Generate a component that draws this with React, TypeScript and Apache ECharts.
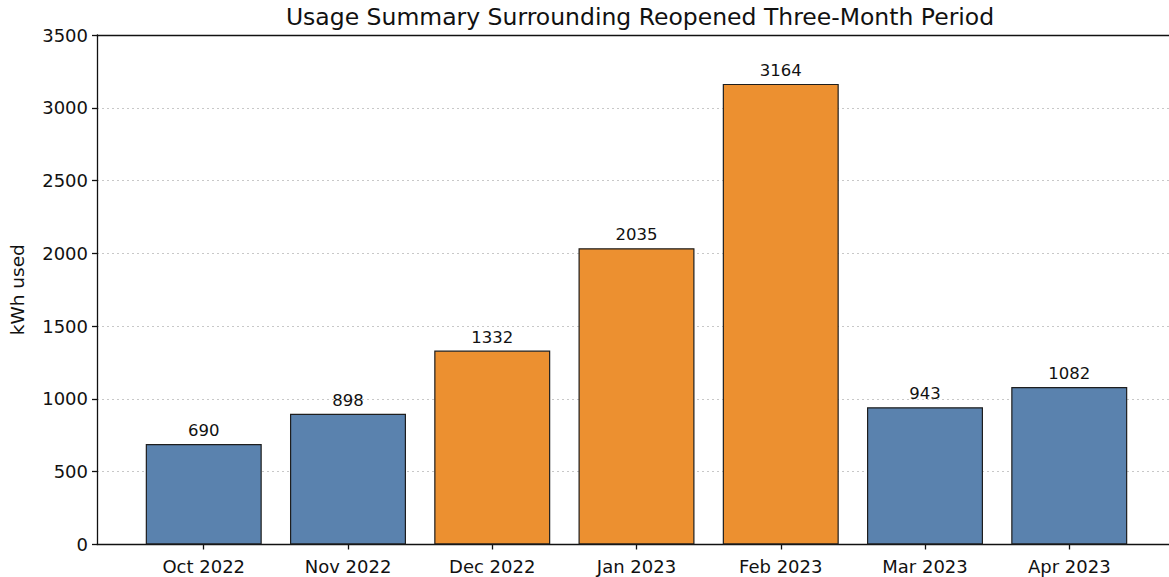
import React, { useEffect, useRef } from "react";
import * as echarts from "echarts";

const months = ["Oct 2022", "Nov 2022", "Dec 2022", "Jan 2023", "Feb 2023", "Mar 2023", "Apr 2023"];
const usage = [690, 898, 1332, 2035, 3164, 943, 1082];
const reopenedMonths = ["Dec 2022", "Jan 2023", "Feb 2023"];
const yTicks = [0, 500, 1000, 1500, 2000, 2500, 3000, 3500];

const BLUE = "#5a82ae";
const ORANGE = "#ec9030";
const FONT = "DejaVu Sans";

export default function App() {
  const ref = useRef<HTMLDivElement>(null);
  useEffect(() => {
    if (!ref.current) return;
    const chart = echarts.init(ref.current, null, { renderer: "svg" });
    const idx = months.map((_, i) => i);
    chart.setOption({
      animation: false,
      title: {
        text: "Usage Summary Surrounding Reopened Three-Month Period",
        left: 635,
        textAlign: "center",
        top: 0,
        textStyle: { fontFamily: FONT, fontSize: 23.5, fontWeight: "normal", color: "#111" },
      },
      grid: { left: 95, top: 35, right: 0, bottom: 32.5, containLabel: false },
      xAxis: [
        {
          type: "value",
          min: -0.74,
          max: 6.74,
          position: "bottom",
          splitLine: { show: false },
          axisLine: { show: true, onZero: false, lineStyle: { color: "#111", width: 1.3 } },
          axisTick: { show: true, customValues: idx, length: 5, lineStyle: { color: "#111", width: 1.3 } },
          axisLabel: {
            customValues: idx,
            formatter: (v: number) => months[Math.round(v)] ?? "",
            fontFamily: FONT,
            fontSize: 18,
            color: "#111",
            margin: 13,
          },
        },
        {
          type: "value",
          min: -0.74,
          max: 6.74,
          position: "top",
          splitLine: { show: false },
          axisLine: { show: true, onZero: false, lineStyle: { color: "#111", width: 1.3 } },
          axisTick: { show: false },
          axisLabel: { show: false },
        },
      ],
      yAxis: {
        type: "value",
        min: 0,
        max: 3500,
        interval: 500,
        name: "kWh used",
        nameLocation: "middle",
        nameGap: 70,
        nameRotate: 90,
        nameTextStyle: { fontFamily: FONT, fontSize: 18.5, color: "#111" },
        axisLine: { show: true, onZero: false, lineStyle: { color: "#111", width: 1.3 } },
        axisTick: { show: true, length: 5, lineStyle: { color: "#111", width: 1.3 } },
        axisLabel: {
          fontFamily: FONT,
          fontSize: 18,
          color: "#111",
          margin: 9,
          customValues: yTicks,
          formatter: (v: number) => String(v),
        },
        splitLine: { show: true, lineStyle: { type: [2, 3], color: "#c8c8c8", width: 1 } },
      },
      series: [
        {
          type: "bar",
          xAxisIndex: 0,
          barWidth: 116,
          data: usage.map((v, i) => ({
            value: [i, v],
            itemStyle: {
              color: reopenedMonths.includes(months[i]) ? ORANGE : BLUE,
              borderColor: "#1e1e1e",
              borderWidth: 1.2,
            },
          })),
          label: {
            show: true,
            position: "top",
            distance: 5,
            formatter: (p: any) => String(p.value[1]),
            fontFamily: FONT,
            fontSize: 16.5,
            color: "#111",
          },
        },
      ],
    });
    return () => chart.dispose();
  }, []);
  return (
    <div
      ref={ref}
      style={{ position: "fixed", left: 0, top: 0, width: 1176, height: 577, background: "#fff" }}
    />
  );
}
